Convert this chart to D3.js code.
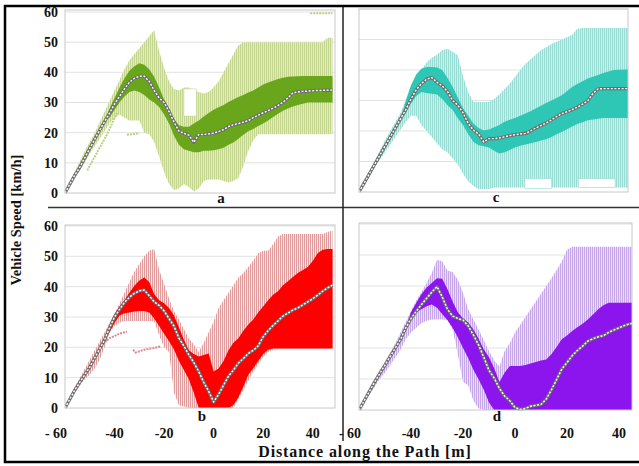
<!DOCTYPE html>
<html><head><meta charset="utf-8">
<script src="https://cdn.jsdelivr.net/npm/d3@7/dist/d3.min.js"></script>
<style>
body{margin:0;background:#fff}
svg{display:block;font-family:"Liberation Serif","Times New Roman",serif;font-weight:bold}
</style>
</head><body>
<svg id="chart" width="639" height="466"></svg>
<script>
// distance along the path [m]
const X = [-60,-58,-56,-54,-52,-50,-48,-46,-44,-42,-40,-38,-36,-34,-32,-30,-28,-26,-24,-22,-20,-18,-16,-14,-12,-10,-8,-6,-4,-2,0,2,4,6,8,10,12,14,16,18,20,22,24,26,28,30,32,34,36,38,40,42,44,46,48];

// panel a (green)
const aMean = [0,3,6,8.6,11.7,14.8,17.8,20.8,23.7,26.5,29.5,32,34.5,36.7,38,38.7,38.7,37,34,31.5,30,27,23.5,20.5,19.8,19.2,16.8,19.4,19.4,19.6,19.8,20.4,21,22,22.7,23,23.5,24,25,25.8,26.6,27.3,28.1,29,30.1,31.5,33.2,33.5,33.7,33.8,33.9,34,34,34.1,34.1];
const aMax = [0,3.5,7,10.5,14,17,20,23.5,27,30.5,34,37.5,41,44,46,48,50,52,54,47,41.5,37,34.5,34,35,35,34,33.5,33,33.5,35,37,40,43,46,49,50,50,50,50,50,50,50,50,50,50,50,50,50,50,50,50,50,51.5,51.5];
const aMin = [0,2.5,5,7.5,10,13,15.5,18,20.5,23,25,26,25,24,24,24,20,19.5,17,12,7,3,1,1.5,3,2,0.5,1.5,4,4.5,4.5,4.5,4,3.5,4,5,9,14,17.5,19.5,19.5,19.5,19.5,19.5,19.5,19.5,19.5,19.5,19.5,19.5,19.5,19.5,19.5,19.5,19.5];
const aHi = [0,3,6,8.6,11.7,14.8,17.8,20.8,23.7,28,31.5,35,38,40.5,42,43,42.5,41,38.5,35,31,28,24.5,22.5,22,22,23,24,25.4,26.5,27.6,28.4,29.2,30.2,31,31.8,32.5,33.3,34,35,36,36.6,37.2,37.8,38.2,38.5,38.6,38.7,38.8,38.8,38.8,38.8,38.8,38.8,38.8];
const aLo = [0,3,6,8.6,11.7,14.8,17.8,20.8,23.7,25,27.5,30,32,33.5,34,33.5,32.5,31,30,28.5,26,23,19,16,14.5,14,13.5,13.5,14,14,14.2,14.5,15,16,16.7,18,19.3,20.5,21.2,22.2,23,24,25.2,26.3,27.3,28,28.7,29.2,29.6,30,30,30,30,30,30];
const aStrays = [[[-51,7.5],[-47,13.5],[-43,19.5],[-39,26.5]],[[-35,19.3],[-30,19.8]],[[39,59.6],[48,59.6]]];
const aGaps = [[-12,-7,25.5,34.5]];

// panel b (red)
const bMean = [0,3,6,8.5,11,13.5,16.5,19.5,22.5,26.5,30,32.5,34.8,36.5,37.8,38.6,38.9,37,35,33.8,32,29.5,27,23,20.5,17.5,15,12,8.5,5.5,2,4.5,7.5,10.5,12.5,14.8,16.3,18,19,20.5,23.5,25.5,27.2,28.7,30.3,31.3,32.3,33,34,35,36,37.2,38.5,39.6,40.5];
const bMax = [0,3.5,7,10,13,16,19,22,25,28,31,34.5,38,41.5,45,47.5,50,51.8,52.4,45.5,41,36,32,29.2,26,22.8,21,18.5,21.5,25,28.5,33,35.5,38,40.5,43,44.5,46.5,48.6,51,51.8,51.8,54,56.5,57.4,57.4,57.4,57.4,57.4,57.4,57.4,57.4,57.4,58,58.5];
const bMin = [0,2.5,5,7.5,9.5,11,13,16,20,25,27,28.2,28.7,28.7,28.7,28.7,28.7,28.7,28.5,24,20,18.5,5,0.8,0.5,0,0,0,0,0,0,0,0,0,0,3,6,9,12,14.5,17,18.5,19.3,19.6,19.6,19.6,19.6,19.6,19.6,19.6,19.6,19.6,19.6,19.6,19.6];
const bHi = [0,3,6,8.5,11,13.5,16.5,19.5,22.5,27.5,31,33.5,35.5,38,40.3,42,43,41.5,37.5,35.5,34.5,33,30.5,26.5,22.5,19,17.8,17,17.5,18,12,13,15.5,19,21.5,23,25.5,27.5,29.2,31.5,33.5,35.5,37.3,38.5,40.5,41.8,43.2,44.5,45.5,46.5,48.5,51,52.2,52.4,52.4];
const bLo = [0,3,6,8.5,11,13.5,16.5,19.5,22.5,25,28,30.5,31.2,31.5,31.8,32,32,31.5,29.5,27,24.5,22,19.3,15.5,12.5,9.5,5,0,0,0,0,0,0,0,1,3.5,7,11,13.1,15.5,17.8,19.2,19.6,19.6,19.6,19.6,19.6,19.6,19.6,19.6,19.6,19.6,19.6,19.6,19.6];
const bStrays = [[[-46,20.5],[-42,23],[-38,24.5],[-35,25.2]],[[-32.5,19.2],[-31.5,18.3],[-28,19.2],[-24,19.8],[-21.5,20.3]]];
const bGaps = [];

// panel c (teal)
const cMean = [0,3,6,9,12,15,18,21,24,27,30.5,33.5,35.5,37,37.5,36,34.8,33,30,28.5,26,22.5,20.3,19,16.4,17.5,17.5,17.7,18.1,18.5,18.8,19,19.2,20,21,21.8,22.6,23.6,24.7,25.7,26.3,27,27.8,28.8,29.9,32.3,33.8,33.9,33.9,33.9,33.9,33.9,33.9,33.9,33.9];
const cMax = [0,3.5,7,10,13.5,17,20,23,26,30,33.5,37,40,42.5,44,45,46.5,47,46,44.8,38,32.8,29.5,29.5,29.5,29.5,30.5,32,33.8,35.5,37.7,40,42,43.5,45,46.5,47.5,48.5,49.3,50,50.7,51.5,53.5,53.8,53.8,53.8,53.8,53.8,53.8,53.8,53.8,53.8,53.8,53.8,53.8];
const cMin = [0,2.5,5,8,10.5,13,15.5,18,20.5,23,25,25,22,20,18,16,14,13,11,9,6,3.5,2,1,1,1,1.5,1.5,1.5,1.5,1.5,1.5,1.5,1.5,1.5,1.5,1.5,1.5,1.5,1.5,1.5,1.5,1.5,1.5,1.5,1.5,1.5,1.5,1.5,1.5,1.5,1.5,1.5,1.5,1.5];
const cHi = [0,3,6,9,12,15,18,21,24,30,35,38.5,40.4,41,41,40.8,40,37.5,34.5,31,27.5,25,22.5,21,20.2,20.5,21.2,22,23,23.7,24.3,25,25.7,26.5,27.4,28.3,29.2,30,30.8,31.7,33,34.4,35.4,36.3,37.2,37.8,38.4,39,39.5,40,40.1,40.2,40.2,40.2,40.2];
const cLo = [0,3,6,9,12,15,18,21,24,26,29,31.5,32.8,32.5,32.2,32,30.5,28.5,27,24.2,22,19,16.5,15.3,15,14.6,13.5,12.6,13,13.8,14.6,15.2,15.6,16,16.4,16.9,17.3,18,18.9,19.7,20.6,21.5,22.3,22.9,23.5,23.8,24,24.3,24.3,24.3,24.3,24.3,24.3,24.3,24.3];
const cStrays = [];
const cGaps = [[3.8,14.1,1.2,4.4],[24.4,38.5,1.5,4.4]];

// panel d (purple)
const dMean = [0,3,6,9,11.8,14.5,17.3,20,22.8,26.5,29.5,31.8,34,36,38,39.8,36.5,32.5,30.3,29.5,29,27.1,24.2,21,17,12.8,10.3,7,4.5,3,0.8,0.2,0.5,1.2,1.5,1.8,3.5,6.5,9.8,13.2,15.3,17.5,19.2,20.6,22.2,23,23.6,24,25,25.8,26.5,27.2,27.8,28,28];
const dMax = [0,3.2,6.4,9.5,12.5,15.5,18.5,21.5,25,28.5,32,35.3,38,41,44.3,48.5,48,45,44.5,42,37.8,32.5,29.2,26,22.5,19,16,14,19,21.5,25,27.5,30,32.5,35,37.5,40,42.5,45.2,48,51.7,52.7,52.7,52.7,52.7,52.7,52.7,52.7,52.7,52.7,52.7,52.7,52.7,52.7,52.7];
const dMin = [0,2.5,5,7.5,10,12,14.5,17,19.5,22.8,25,26.5,28,28.8,29.2,29.2,29.2,29,26,18,9,8,3,0.5,0,0,0,0,0,0,0,0,0,0,0,0,0,0,0,0,0,0,0,0,0,0,0,0,0,0,0,0,0,0,0];
const dHi = [0,3,6,9,11.8,14.5,17.3,20,22.8,26.5,31.5,34.5,37.3,39.5,41,42.5,42.3,39,35,31.5,29.5,28.2,26,23,19.5,17,13.5,9,12,14.2,14.2,14.2,14.5,15,15.5,16,16.3,18,20.3,22.8,24,25.5,26.7,27.8,29.2,30.8,32.5,33.8,34.6,34.6,34.6,34.6,34.6,34.6,34.6];
const dLo = [0,3,6,9,11.8,14.5,17.3,20,22.8,26.5,29,31.5,32.5,33.5,34,33,31,29,26.5,23.5,20,16.8,13,9.9,6.5,2.4,0,0,0,0,0,0,0,0,0,0,0,0,0,0,0,0,0,0,0,0,0,0,0,0,0,0,0,0,0];
const dStrays = [];
const dGaps = [];

const yTickValues = [0,10,20,30,40,50,60];
const yTickLabels = ["0","10","20","30","40","50","60"];
const xTickValues = [-60,-40,-20,0,20,40];
const xTickLabels = ["- 60","-40","-20","0","20","40"];

const panels = [
  {id:"a", mean:aMean, max:aMax, min:aMin, hi:aHi, lo:aLo, strays:aStrays, gaps:aGaps,
   xr:[65,335], xd:[-60,49], yr:[193,12], top:10, dark:"#6aa61c", bg:"#e2ebc3", stripe:"#c3d58e", strayC:"#b9cf86",
   yTicks:true, xTicks:false, lab:[221,203]},
  {id:"b", mean:bMean, max:bMax, min:bMin, hi:bHi, lo:bLo, strays:bStrays, gaps:bGaps,
   xr:[65,335], xd:[-60,49], yr:[408,226], top:225, dark:"#fe0000", bg:"#f9e6e6", stripe:"#e09c9c", strayC:"#d98a8a",
   yTicks:true, xTicks:true, lab:[202,421]},
  {id:"c", mean:cMean, max:cMax, min:cMin, hi:cHi, lo:cLo, strays:cStrays, gaps:cGaps,
   xr:[359,628], xd:[-60,43.5], yr:[192,9], top:9, dark:"#2ec6b4", bg:"#cdefea", stripe:"#98dcd3", strayC:"#8fd8ce",
   yTicks:false, xTicks:false, lab:[496,202]},
  {id:"d", mean:dMean, max:dMax, min:dMin, hi:dHi, lo:dLo, strays:dStrays, gaps:dGaps,
   xr:[359,632], xd:[-60,45], yr:[410,224], top:223, dark:"#8c14ec", bg:"#e9ddf6", stripe:"#c6a8e8", strayC:"#c0a0e4",
   yTicks:false, xTicks:true, lab:[497,421]}
];

const svg = d3.select("#chart");
const defs = svg.append("defs");

panels.forEach(p => {
  const x = d3.scaleLinear().domain(p.xd).range(p.xr);
  const y = d3.scaleLinear().domain([0,60]).range(p.yr);
  const pw = p.xr[1]-p.xr[0], ph = p.yr[0]-p.top;

  const pat = defs.append("pattern").attr("id","hatch-"+p.id)
    .attr("patternUnits","userSpaceOnUse").attr("width",2).attr("height",10);
  pat.append("rect").attr("width",2).attr("height",10).attr("fill",p.bg);
  pat.append("rect").attr("width",1).attr("height",10).attr("fill",p.stripe);

  defs.append("clipPath").attr("id","clip-"+p.id)
    .append("rect").attr("x",p.xr[0]).attr("y",p.top).attr("width",pw).attr("height",ph+0.5);

  const g = svg.append("g");
  g.selectAll("line.grid").data(yTickValues.filter(v=>v>0)).join("line")
    .attr("x1",p.xr[0]).attr("x2",p.xr[1]).attr("y1",d=>y(d)).attr("y2",d=>y(d))
    .attr("stroke","#e2e2e2").attr("stroke-width",1);

  const pg = g.append("g").attr("clip-path","url(#clip-"+p.id+")");
  const pts = X.map((v,i)=>i);
  const env = d3.area().x(i=>x(X[i])).y0(i=>y(p.min[i])).y1(i=>y(p.max[i]));
  pg.append("path").datum(pts).attr("d",env).attr("fill","url(#hatch-"+p.id+")");

  pg.selectAll("rect.gap").data(p.gaps).join("rect")
    .attr("x",d=>x(d[0])).attr("width",d=>x(d[1])-x(d[0]))
    .attr("y",d=>y(d[3])).attr("height",d=>y(d[2])-y(d[3]))
    .attr("fill","#fff").attr("stroke",p.stripe).attr("stroke-width",0.6);

  const sl = d3.line().x(d=>x(d[0])).y(d=>y(d[1]));
  pg.selectAll("path.stray").data(p.strays).join("path")
    .attr("d",sl).attr("fill","none").attr("stroke",p.strayC).attr("stroke-width",2)
    .attr("stroke-dasharray","2 1");

  const band = d3.area().x(i=>x(X[i])).y0(i=>y(p.lo[i])).y1(i=>y(p.hi[i]));
  pg.append("path").datum(pts).attr("d",band).attr("fill",p.dark);

  const ml = d3.line().x(i=>x(X[i])).y(i=>y(p.mean[i]));
  pg.append("path").datum(pts).attr("d",ml).attr("fill","none")
    .attr("stroke","#6d6d6d").attr("stroke-width",3.2).attr("stroke-linejoin","round");
  pg.append("path").datum(pts).attr("d",ml).attr("fill","none")
    .attr("stroke","#ffffff").attr("stroke-width",1.4).attr("stroke-dasharray","2 1.6");

  g.append("rect").attr("x",p.xr[0]).attr("y",p.top).attr("width",pw).attr("height",ph)
    .attr("fill","none").attr("stroke","#c8c8c8").attr("stroke-width",1);

  if (p.yTicks) {
    g.selectAll("text.yt").data(yTickValues).join("text")
      .attr("x",58).attr("y",d=>y(d)).attr("dy","0.35em").attr("text-anchor","end")
      .attr("font-size",14).attr("fill","#111").text((d,i)=>yTickLabels[i]);
  }
  if (p.xTicks) {
    g.selectAll("text.xt").data(xTickValues).join("text")
      .attr("x",(d,i)=>x(d)-(i===0?9:0)).attr("y",437.5).attr("text-anchor","middle")
      .attr("font-size",14).attr("fill","#111").text((d,i)=>xTickLabels[i]);
  }
  g.append("text").attr("x",p.lab[0]).attr("y",p.lab[1]).attr("text-anchor","middle")
    .attr("font-size",15).attr("fill","#111").text(p.id);
});

svg.append("line").attr("x1",48).attr("x2",639).attr("y1",207.5).attr("y2",207.5)
  .attr("stroke","#333").attr("stroke-width",1.5);
svg.append("line").attr("x1",343).attr("x2",343).attr("y1",6).attr("y2",441)
  .attr("stroke","#222").attr("stroke-width",1.5);

svg.append("text").attr("transform","translate(21,220) rotate(-90)").attr("text-anchor","middle")
  .attr("font-size",14.5).attr("fill","#111").text("Vehicle Speed [km/h]");
svg.append("text").attr("x",365).attr("y",457).attr("text-anchor","middle")
  .attr("font-size",16).attr("letter-spacing",0.9).attr("fill","#111").text("Distance along the Path [m]");

svg.append("rect").attr("x",5).attr("y",6).attr("width",650).attr("height",456)
  .attr("fill","none").attr("stroke","#000").attr("stroke-width",2.5);
</script>
</body></html>
